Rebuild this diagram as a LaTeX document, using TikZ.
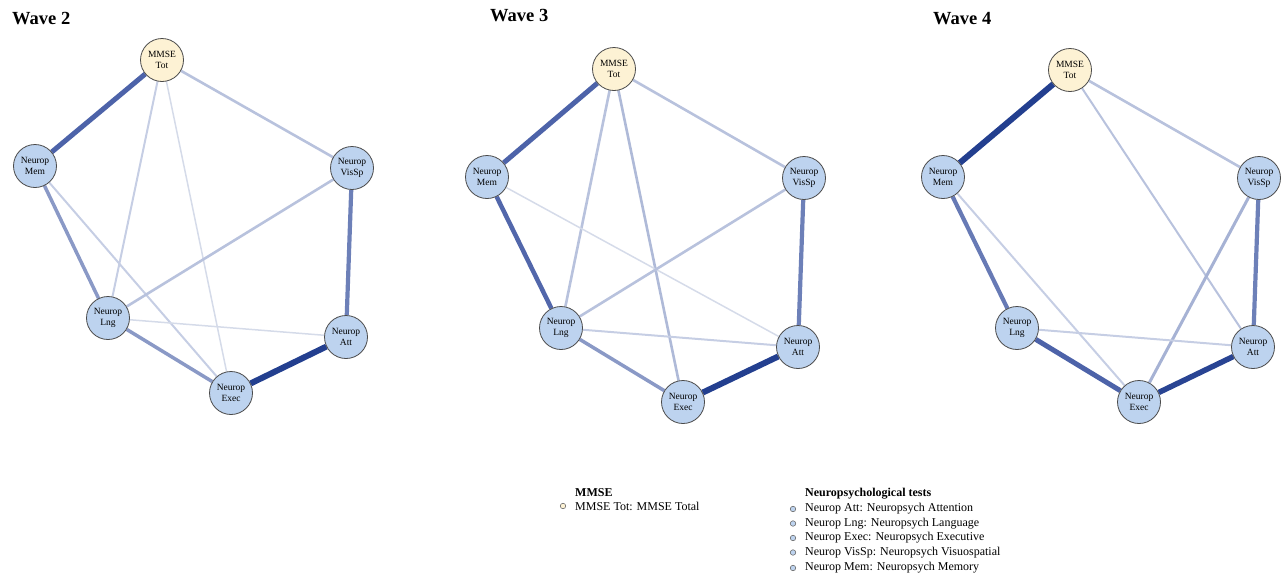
\documentclass[tikz,border=0pt]{standalone}
\usepackage{fontspec}
\setmainfont{Liberation Serif}
\pgfdeclarelayer{bg}
\pgfsetlayers{bg,main}
\definecolor{nodeblue}{HTML}{BDD3EF}
\definecolor{nodecream}{HTML}{FDF2D4}
\definecolor{nodeborder}{HTML}{4A4A4A}
\definecolor{cA}{HTML}{D5DBE9}
\definecolor{cB}{HTML}{C6CEE4}
\definecolor{cC}{HTML}{B8C2DD}
\definecolor{cD}{HTML}{8A99C6}
\definecolor{cE}{HTML}{6D80B8}
\definecolor{cF}{HTML}{4D63A9}
\definecolor{cG}{HTML}{233F8F}
\tikzset{
  neuro/.style={circle, draw=nodeborder, line width=0.8pt, fill=nodeblue,
    minimum size=43pt, inner sep=0pt, align=center,
    font=\fontsize{9.5}{10.5}\selectfont},
  mmse/.style={neuro, fill=nodecream},
  wavetitle/.style={anchor=west, inner sep=0pt, font=\fontsize{18.5}{22}\selectfont\bfseries},
  leghead/.style={anchor=west, inner sep=0pt, font=\fontsize{12}{14}\selectfont\bfseries},
  legtext/.style={anchor=west, inner sep=0pt, font=\fontsize{12}{14}\selectfont},
  legdot/.style={circle, draw=nodeborder!80, line width=0.6pt, fill=nodeblue, minimum size=5.5pt, inner sep=0pt},
  legdotm/.style={legdot, fill=nodecream},
  ea/.style={draw=cA, line width=1.5pt},
  eb/.style={draw=cB, line width=2pt},
  ec/.style={draw=cC, line width=2.6pt},
  ed/.style={draw=cD, line width=3.5pt},
  ee/.style={draw=cE, line width=4.2pt},
  ef/.style={draw=cF, line width=5pt},
  eg/.style={draw=cG, line width=6pt},
}
\begin{document}
\begin{tikzpicture}[x=1pt,y=-1pt]
\useasboundingbox (0,0) rectangle (1285,579);

% ---------- Wave 2 ----------
\node[wavetitle] (t2) at (12,19) {Wave 2};
\node[mmse]  (m2)   at (162,60)  {MMSE\\Tot};
\node[neuro] (mem2) at (35,166)  {Neurop\\Mem};
\node[neuro] (vis2) at (352,168) {Neurop\\VisSp};
\node[neuro] (lng2) at (108,318) {Neurop\\Lng};
\node[neuro] (att2) at (346,337) {Neurop\\Att};
\node[neuro] (exe2) at (231,393) {Neurop\\Exec};
\begin{pgfonlayer}{bg}
\draw[ef] (m2) -- (mem2);
\draw[eb] (m2) -- (lng2);
\draw[ea] (m2) -- (exe2);
\draw[ec] (m2) -- (vis2);
\draw[ed] (mem2) -- (lng2);
\draw[eb] (mem2) -- (exe2);
\draw[ec] (vis2) -- (lng2);
\draw[ee] (vis2) -- (att2);
\draw[ea] (lng2) -- (att2);
\draw[ed] (lng2) -- (exe2);
\draw[eg] (exe2) -- (att2);
\end{pgfonlayer}

% ---------- Wave 3 ----------
\node[wavetitle] (t3) at (490,16) {Wave 3};
\node[mmse]  (m3)   at (614,69)  {MMSE\\Tot};
\node[neuro] (mem3) at (487,177) {Neurop\\Mem};
\node[neuro] (vis3) at (804,178) {Neurop\\VisSp};
\node[neuro] (lng3) at (561,328) {Neurop\\Lng};
\node[neuro] (att3) at (798,347) {Neurop\\Att};
\node[neuro] (exe3) at (683,402) {Neurop\\Exec};
\begin{pgfonlayer}{bg}
\draw[ef] (m3) -- (mem3);
\draw[ec] (m3) -- (lng3);
\draw[ec, draw=cC!80!cD] (m3) -- (exe3);
\draw[ec] (m3) -- (vis3);
\draw[ef, line width=4.5pt, draw=cF!85!cE] (mem3) -- (lng3);
\draw[ea] (mem3) -- (att3);
\draw[ec] (vis3) -- (lng3);
\draw[ee] (vis3) -- (att3);
\draw[eb] (lng3) -- (att3);
\draw[ed] (lng3) -- (exe3);
\draw[eg] (exe3) -- (att3);
\end{pgfonlayer}

% ---------- Wave 4 ----------
\node[wavetitle] (t4) at (933,19) {Wave 4};
\node[mmse]  (m4)   at (1070,70)  {MMSE\\Tot};
\node[neuro] (mem4) at (943,177)  {Neurop\\Mem};
\node[neuro] (vis4) at (1259,178) {Neurop\\VisSp};
\node[neuro] (lng4) at (1017,328) {Neurop\\Lng};
\node[neuro] (att4) at (1253,347) {Neurop\\Att};
\node[neuro] (exe4) at (1139,402) {Neurop\\Exec};
\begin{pgfonlayer}{bg}
\draw[eg] (m4) -- (mem4);
\draw[eb, draw=cC] (m4) -- (att4);
\draw[ec] (m4) -- (vis4);
\draw[ee, draw=cE!80!cF] (mem4) -- (lng4);
\draw[eb] (mem4) -- (exe4);
\draw[ec, line width=3pt, draw=cC!60!cD] (vis4) -- (exe4);
\draw[ee] (vis4) -- (att4);
\draw[eb] (lng4) -- (att4);
\draw[ef] (lng4) -- (exe4);
\draw[eg, line width=5.5pt, draw=cG!85!cF] (exe4) -- (att4);
\end{pgfonlayer}

% ---------- Legend ----------
\node[leghead] (lh1) at (575,493) {MMSE};
\node[legdotm] (ld0) at (563,506) {};
\node[legtext] (lt0) at (575,506) {MMSE Tot: MMSE Total};

\node[leghead] (lh2) at (805,494) {Neuropsychological tests};
\node[legdot] (ld1) at (793,509) {};
\node[legtext] (lt1) at (805,509) {Neurop Att: Neuropsych Attention};
\node[legdot] (ld2) at (793,523.5) {};
\node[legtext] (lt2) at (805,523.5) {Neurop Lng: Neuropsych Language};
\node[legdot] (ld3) at (793,538) {};
\node[legtext] (lt3) at (805,538) {Neurop Exec: Neuropsych Executive};
\node[legdot] (ld4) at (793,552.5) {};
\node[legtext] (lt4) at (805,552.5) {Neurop VisSp: Neuropsych Visuospatial};
\node[legdot] (ld5) at (793,568) {};
\node[legtext] (lt5) at (805,568) {Neurop Mem: Neuropsych Memory};
\end{tikzpicture}
\end{document}
